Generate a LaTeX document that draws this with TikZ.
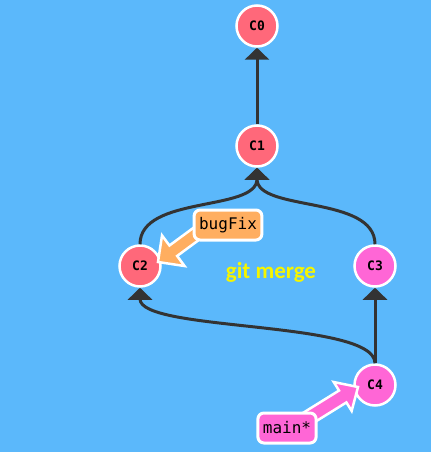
\documentclass[tikz,border=0pt]{standalone}
\usepackage{fontspec}
\newfontfamily\monof{DejaVu Sans Mono}
\newfontfamily\carlito{Carlito}
\usetikzlibrary{arrows.meta,calc}
\definecolor{bgblue}{RGB}{91,184,251}
\definecolor{cred}{RGB}{255,104,122}
\definecolor{cpink}{RGB}{255,102,214}
\definecolor{corange}{RGB}{255,174,96}
\definecolor{cline}{RGB}{51,51,51}
\definecolor{cyel}{RGB}{245,245,0}
\tikzset{
  commit/.style={circle, draw=white, line width=2.5pt, minimum size=41pt, inner sep=0pt,
    font=\monof\bfseries\fontsize{13}{13}\selectfont, text=black},
  redc/.style={commit, fill=cred},
  pinkc/.style={commit, fill=cpink},
  branch/.style={rounded corners=6pt, draw=white, line width=3pt, inner xsep=5pt,
    minimum height=30pt, font=\monof\fontsize{16}{16}\selectfont, text=black},
  parent/.style={draw=cline, line width=3pt, -{Triangle[width=24pt,length=12pt]}},
  fatarrow/.style={draw=white, line width=2.5pt, line join=miter}
}
\begin{document}
\begin{tikzpicture}[x=1pt,y=-1pt]
\fill[bgblue] (0,0) rectangle (431,452);
\useasboundingbox (0,0) rectangle (431,452);
% commits
\node[redc] (c0) at (257,26) {C0};
\node[redc] (c1) at (257,146) {C1};
\node[redc] (c2) at (140,266) {C2};
\node[pinkc] (c3) at (375,266) {C3};
\node[pinkc] (c4) at (375,385) {C4};
% parent links
\draw[parent] (c1) -- (c0);
\draw[parent] (c2.north) .. controls (140,195) and (257,212) .. (c1.south);
\draw[parent] (c3.north) .. controls (375,195) and (257,212) .. (c1.south);
\draw[parent] (c4) -- (c3);
\draw[parent] (c4.north) .. controls (375,320) and (140,332) .. (c2.south);
% bugFix pointer
\coordinate (bs) at (215,220);
\coordinate (bt) at (158,262);
\coordinate (bb) at ($(bt)!19pt!(bs)$);
\fill[corange] ($(bs)!6.5pt!90:(bt)$) -- ($(bb)!6.5pt!90:(bt)$) -- ($(bb)!19pt!90:(bt)$) -- (bt)
  -- ($(bb)!19pt!-90:(bt)$) -- ($(bb)!6.5pt!-90:(bt)$) -- ($(bs)!6.5pt!-90:(bt)$) -- cycle;
\draw[fatarrow] ($(bs)!6.5pt!90:(bt)$) -- ($(bb)!6.5pt!90:(bt)$) -- ($(bb)!19pt!90:(bt)$) -- (bt)
  -- ($(bb)!19pt!-90:(bt)$) -- ($(bb)!6.5pt!-90:(bt)$) -- ($(bs)!6.5pt!-90:(bt)$);
\node[branch, fill=corange] (bugfix) at (228,225) {bugFix};
% main pointer
\coordinate (ms) at (300,423);
\coordinate (mt) at (358,387);
\coordinate (mb) at ($(mt)!18pt!(ms)$);
\fill[cpink] ($(ms)!7pt!90:(mt)$) -- ($(mb)!7pt!90:(mt)$) -- ($(mb)!17pt!90:(mt)$) -- (mt)
  -- ($(mb)!17pt!-90:(mt)$) -- ($(mb)!7pt!-90:(mt)$) -- ($(ms)!7pt!-90:(mt)$) -- cycle;
\draw[fatarrow] ($(ms)!7pt!90:(mt)$) -- ($(mb)!7pt!90:(mt)$) -- ($(mb)!17pt!90:(mt)$) -- (mt)
  -- ($(mb)!17pt!-90:(mt)$) -- ($(mb)!7pt!-90:(mt)$) -- ($(ms)!7pt!-90:(mt)$);
\node[branch, fill=cpink] (main) at (287,428) {main*};
% label
\node[text=cyel, font=\carlito\bfseries\fontsize{23}{23}\selectfont] (gm) at (271,272) {git merge};
\end{tikzpicture}
\end{document}
